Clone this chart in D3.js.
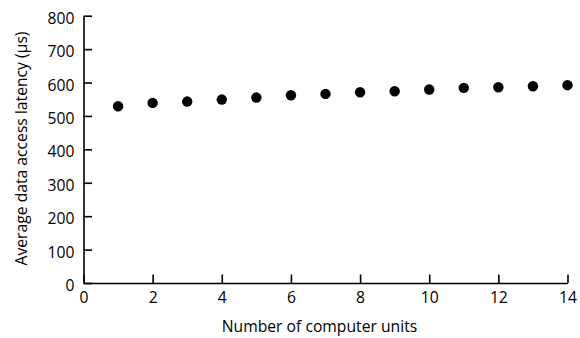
<!DOCTYPE html>
<html>
<head>
<meta charset="utf-8">
<style>
body { margin: 0; background: #fff; }
svg { display: block; }
text { font-family: "Open Sans", sans-serif; fill: #000; }
.axis text { font-size: 15.7px; }
.axis path, .axis line { stroke: #000; stroke-width: 1.6px; }
.title { font-size: 15.7px; }
</style>
<script src="https://d3js.org/d3.v7.min.js"></script>
</head>
<body>
<svg width="580" height="338"></svg>
<script>
// computer units
var units = [1, 2, 3, 4, 5, 6, 7, 8, 9, 10, 11, 12, 13, 14];
// average latency, microseconds
var latency = [529, 539, 543, 549, 555, 562, 566, 571, 574, 579, 584, 586, 589, 592];
var xTicks = [0, 2, 4, 6, 8, 10, 12, 14];
var yTicks = [0, 100, 200, 300, 400, 500, 600, 700, 800];

var svg = d3.select("svg"),
    margin = {top: 15.7, right: 12.5, bottom: 55, left: 83.5},
    width = +svg.attr("width") - margin.left - margin.right,
    height = +svg.attr("height") - margin.top - margin.bottom;

var g = svg.append("g")
    .attr("transform", "translate(" + margin.left + "," + margin.top + ")");

var x = d3.scaleLinear().domain([0, 14]).range([0, width]);
var y = d3.scaleLinear().domain([0, 800]).range([height, 0]);

g.append("g")
    .attr("class", "axis")
    .attr("transform", "translate(0," + height + ")")
    .call(d3.axisBottom(x).tickValues(xTicks).tickSizeInner(-8.5).tickSizeOuter(0))
    .selectAll("text").attr("y", 20).attr("dy", null);

g.append("g")
    .attr("class", "axis")
    .call(d3.axisLeft(y).tickValues(yTicks).tickSizeInner(-8.5).tickSizeOuter(0))
    .selectAll("text").attr("x", -9).attr("dy", "0.48em");

g.selectAll(".dot")
    .data(units)
    .enter().append("circle")
    .attr("class", "dot")
    .attr("cx", function(d) { return x(d); })
    .attr("cy", function(d, i) { return y(latency[i]); })
    .attr("r", 5.2)
    .attr("fill", "#000");

svg.append("text")
    .attr("class", "title")
    .attr("x", 319.5)
    .attr("y", 332)
    .attr("text-anchor", "middle")
    .text("Number of computer units");

svg.append("text")
    .attr("class", "title")
    .attr("transform", "translate(27,148.5) rotate(-90)")
    .attr("text-anchor", "middle")
    .text("Average data access latency (µs)");
</script>
</body>
</html>
